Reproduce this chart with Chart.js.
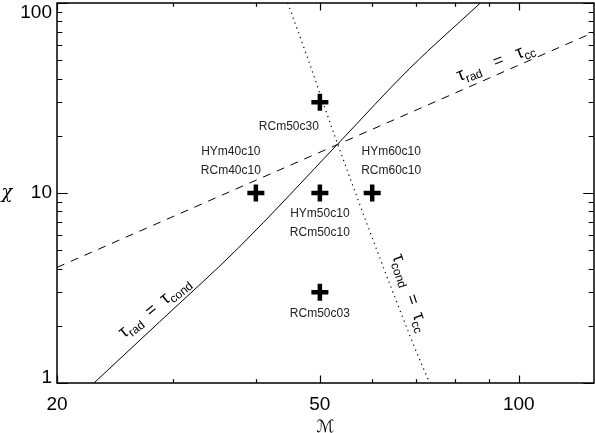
<!DOCTYPE html>
<html>
<head>
<meta charset="utf-8">
<script src="https://cdn.jsdelivr.net/npm/chart.js@4.4.0/dist/chart.umd.min.js"></script>
<style>
  body { margin: 0; background: #fff; }
  #wrap { width: 595px; height: 433px; }
</style>
</head>
<body>
<div id="wrap"><canvas id="chart" width="595" height="433"></canvas></div>
<script>
// boundary curves (Mach number vs chi)
var radCondMach = [22.75, 28.6, 37.6, 53.6, 68.4, 87.5];
var radCondChi  = [1, 2.10, 5.12, 18.6, 45.3, 100];

var radCcMach = [20, 130];
var radCcChi  = [4.06, 70.2];

var condCcMach = [44.7, 47.8, 52.7, 69.1, 73.3];
var condCcChi  = [100, 52.5, 19.8, 1.63, 1];

// simulated models
var modelMach  = [50, 40, 50, 60, 50];
var modelChi   = [30, 10, 10, 10, 3];
var modelNames = [['RCm50c30'], ['HYm40c10', 'RCm40c10'], ['HYm50c10', 'RCm50c10'], ['HYm60c10', 'RCm60c10'], ['RCm50c03']];

// axes
var xMajorTicks = [20, 50, 100];
var xTickLabels = ['20', '50', '100'];
var xMinorTicks = [30, 40, 60, 70, 80, 90];
var yMajorTicks = [1, 10, 100];
var yTickLabels = ['1', '10', '100'];
var yMinorTicks = [2, 3, 4, 5, 6, 7, 8, 9, 20, 30, 40, 50, 60, 70, 80, 90];

function toPoints(xs, ys) {
  var pts = [];
  for (var i = 0; i < xs.length; i++) pts.push({ x: xs[i], y: ys[i] });
  return pts;
}

var FONT = '"Liberation Sans", Arial, sans-serif';

// draws tau_sub = tau_sub labels along a rotated baseline, centred on (cx, cy)
function drawRich(ctx, cx, cy, angle, parts) {
  ctx.save();
  ctx.translate(cx, cy);
  ctx.rotate(angle * Math.PI / 180);
  var total = 0, widths = [];
  parts.forEach(function (p) {
    ctx.font = p[1] + 'px ' + FONT;
    var w = ctx.measureText(p[0]).width;
    widths.push(w);
    total += w;
  });
  var x = -total / 2;
  ctx.textAlign = 'left';
  ctx.textBaseline = 'alphabetic';
  parts.forEach(function (p, i) {
    ctx.font = p[1] + 'px ' + FONT;
    ctx.fillText(p[0], x, p[2]);
    x += widths[i];
  });
  ctx.restore();
}

var idlFrame = {
  id: 'idlFrame',
  afterDraw: function (chart) {
    var ctx = chart.ctx;
    var a = chart.chartArea;
    var xs = chart.scales.x, ys = chart.scales.y;
    var w = a.right - a.left, h = a.bottom - a.top;
    var xLen = 0.02 * h, yLen = 0.02 * w;

    ctx.save();
    ctx.strokeStyle = '#000';
    ctx.fillStyle = '#000';
    ctx.lineWidth = 1.5;
    ctx.strokeRect(a.left, a.top, w, h);

    // ticks point inwards, on both sides
    ctx.lineWidth = 1.2;
    ctx.beginPath();
    xMajorTicks.concat(xMinorTicks).forEach(function (v, i) {
      var len = i < xMajorTicks.length ? xLen : xLen / 2;
      var px = Math.round(xs.getPixelForValue(v)) + 0.5;
      ctx.moveTo(px, a.bottom); ctx.lineTo(px, a.bottom - len);
      ctx.moveTo(px, a.top); ctx.lineTo(px, a.top + len);
    });
    yMajorTicks.concat(yMinorTicks).forEach(function (v, i) {
      var len = i < yMajorTicks.length ? yLen : yLen / 2;
      var py = Math.round(ys.getPixelForValue(v)) + 0.5;
      ctx.moveTo(a.left, py); ctx.lineTo(a.left + len, py);
      ctx.moveTo(a.right, py); ctx.lineTo(a.right - len, py);
    });
    ctx.stroke();

    // tick labels
    ctx.font = '19px ' + FONT;
    ctx.textAlign = 'center';
    ctx.textBaseline = 'alphabetic';
    xMajorTicks.forEach(function (v, i) {
      ctx.fillText(xTickLabels[i], xs.getPixelForValue(v), a.bottom + 27);
    });
    ctx.textAlign = 'right';
    yMajorTicks.forEach(function (v, i) {
      var py = ys.getPixelForValue(v);
      if (i === 0) ctx.textBaseline = 'alphabetic';
      else if (i === yMajorTicks.length - 1) ctx.textBaseline = 'top';
      else ctx.textBaseline = 'middle';
      ctx.fillText(yTickLabels[i], a.left - 5, py);
    });

    // axis titles
    ctx.textAlign = 'center';
    ctx.textBaseline = 'alphabetic';
    ctx.font = '17px "DejaVu Sans", sans-serif';
    ctx.fillText('\u2133', (a.left + a.right) / 2, 432);
    ctx.font = 'italic 18px "DejaVu Serif", serif';
    ctx.textBaseline = 'middle';
    ctx.fillText('\u03c7', 7, ys.getPixelForValue(10));

    // model names next to each cross
    var offsets = [[-31, 24], [-25, -41], [0, 21], [19, -41], [0, 21]];
    ctx.font = '12px ' + FONT;
    ctx.fillStyle = '#222';
    modelNames.forEach(function (names, i) {
      var px = xs.getPixelForValue(modelMach[i]) + offsets[i][0];
      var py = ys.getPixelForValue(modelChi[i]) + offsets[i][1];
      names.forEach(function (n, j) {
        ctx.fillText(n, px, py + j * 19);
      });
    });

    // curve labels
    ctx.fillStyle = '#000';
    drawRich(ctx, xs.getPixelForValue(28.1), ys.getPixelForValue(2.5), -39,
      [['\u03c4', 18, 5], ['rad', 12, 9], ['  =  ', 17, 5], ['\u03c4', 18, 5], ['cond', 12, 9]]);
    drawRich(ctx, xs.getPixelForValue(68.5), ys.getPixelForValue(2.98), 71,
      [['\u03c4', 18, 5], ['cond', 12, 9], ['  =  ', 17, 5], ['\u03c4', 18, 5], ['cc', 12, 9]]);
    drawRich(ctx, xs.getPixelForValue(92.3), ys.getPixelForValue(48.9), -21,
      [['\u03c4', 18, 5], ['rad', 12, 9], ['   =   ', 17, 5], ['\u03c4', 18, 5], ['cc', 12, 9]]);
    ctx.restore();
  }
};

var ctx = document.getElementById('chart').getContext('2d');
var chart = new Chart(ctx, {
  type: 'scatter',
  data: {
    datasets: [{
      data: toPoints(radCondMach, radCondChi),
      showLine: true,
      borderColor: '#000',
      borderWidth: 1,
      pointRadius: 0,
      cubicInterpolationMode: 'monotone'
    }, {
      data: toPoints(radCcMach, radCcChi),
      showLine: true,
      borderColor: '#000',
      borderWidth: 1,
      borderDash: [8, 7],
      pointRadius: 0
    }, {
      data: toPoints(condCcMach, condCcChi),
      showLine: true,
      borderColor: '#000',
      borderWidth: 1.2,
      borderDash: [1.2, 4],
      pointRadius: 0,
      cubicInterpolationMode: 'monotone'
    }, {
      data: toPoints(modelMach, modelChi),
      showLine: false,
      pointStyle: 'cross',
      pointRadius: 8.5,
      pointBorderWidth: 4.5,
      pointBorderColor: '#000',
      borderColor: '#000'
    }]
  },
  options: {
    responsive: false,
    animation: false,
    layout: { autoPadding: false, padding: { left: 57, right: 1, top: 3, bottom: 50 } },
    plugins: { legend: { display: false }, tooltip: { enabled: false } },
    scales: {
      x: { type: 'logarithmic', min: 20, max: 130, display: false },
      y: { type: 'logarithmic', min: 1, max: 100, display: false }
    }
  },
  plugins: [idlFrame]
});
</script>
</body>
</html>
